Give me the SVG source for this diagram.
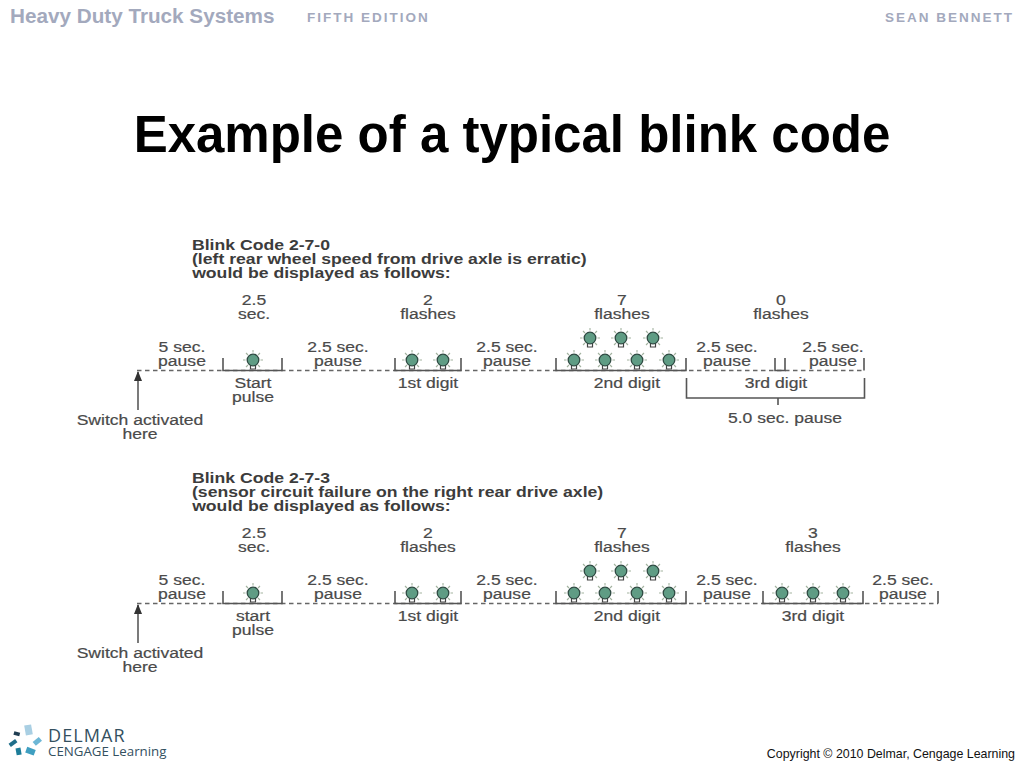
<svg xmlns="http://www.w3.org/2000/svg" width="1024" height="768" viewBox="0 0 1024 768">
<style>
text{font-family:"Liberation Sans",Arial,sans-serif}
.l{font-size:15px;fill:#4a4a4a;text-anchor:middle;stroke:#4a4a4a;stroke-width:.2;transform-box:fill-box;transform-origin:50% 50%;transform:scaleX(1.17)}
.h{font-size:15px;font-weight:bold;fill:#3c3c3c;transform-box:fill-box;transform-origin:0 50%;transform:scaleX(1.175)}
.dash{stroke:#666;stroke-width:1.5;stroke-dasharray:4.5 3.5;fill:none}
.solid{stroke:#555;stroke-width:1.6;fill:none}
.pointer{stroke:#333;stroke-width:1.3;fill:none;marker-end:url(#arr)}
.ray{stroke:#a3b3a0;stroke-width:1.1}
.top{font-weight:bold;fill:#a3a9bd}
.ed{font-size:13.5px;letter-spacing:2px}
.logo{font-family:"Open Sans",sans-serif;fill:#34505f}
</style>
<defs>
<g id="bulb">
<path class="ray" d="M0-11V-8.500M7-8L5-6M-7-8L-5-6M10-1H7.500M-10-1H-7.500M7 6L5 4M-7 6L-5 4"/>
<path d="M-2.500 4V8H2.500V4" fill="#fff" stroke="#444" stroke-width="1.200"/>
<circle r="5.800" cy="-1" fill="#5f9c84" stroke="#2f4a42" stroke-width="1.300"/>
</g>
<marker id="arr" markerWidth="10" markerHeight="8" refX="9" refY="4" orient="auto" markerUnits="userSpaceOnUse" viewBox="0 0 10 8"><path d="M0 0L10 4L0 8Z" fill="#333"/></marker>
</defs>
<rect width="1024" height="768" fill="#fff"/>
<g id="header">
<text class="top" x="10" y="23" font-size="20.700">Heavy Duty Truck Systems</text>
<text class="top ed" x="307" y="22">FIFTH EDITION</text>
<text class="top ed" x="1014" y="22" text-anchor="end">SEAN BENNETT</text>
</g>
<text id="title" x="512" y="151.500" font-size="51" font-weight="bold" fill="#000" text-anchor="middle">Example of a typical blink code</text>

<g id="connectors">
<path class="dash" d="M137 370.500H863"/>
<path class="solid" d="M223 358V370.500H282V358M395 358V370.500H461V358M556 358V370.500H686V358M775 358V370.500H785V358M864 358V370.500"/>
<path class="solid" d="M686.500 378V398H864.500V378M778 398V405"/>
<path class="pointer" d="M138 410V372"/>

<path class="dash" d="M137 603.500H938"/>
<path class="solid" d="M223 591V603.500H282V591M395 591V603.500H461V591M556 591V603.500H686V591M763 591V603.500H863V591M938 591V603.500"/>
<path class="pointer" d="M138 643V605"/>
</g>

<g id="bulbs-1">
<use href="#bulb" x="253" y="361"/><use href="#bulb" x="412" y="361"/><use href="#bulb" x="443" y="361"/>
<use href="#bulb" x="574" y="361"/><use href="#bulb" x="605" y="361"/><use href="#bulb" x="637" y="361"/><use href="#bulb" x="669" y="361"/>
<use href="#bulb" x="590" y="339"/><use href="#bulb" x="621" y="339"/><use href="#bulb" x="653" y="339"/>
</g>
<g id="bulbs-2">
<use href="#bulb" x="253" y="594"/><use href="#bulb" x="412" y="594"/><use href="#bulb" x="443" y="594"/>
<use href="#bulb" x="574" y="594"/><use href="#bulb" x="605" y="594"/><use href="#bulb" x="637" y="594"/><use href="#bulb" x="669" y="594"/>
<use href="#bulb" x="590" y="572"/><use href="#bulb" x="621" y="572"/><use href="#bulb" x="653" y="572"/>
<use href="#bulb" x="782" y="594"/><use href="#bulb" x="813" y="594"/><use href="#bulb" x="843" y="594"/>
</g>

<g id="code-1">
<text class="h" x="192" y="250">Blink Code 2-7-0</text>
<text class="h" x="192" y="264">(left rear wheel speed from drive axle is erratic)</text>
<text class="h" x="192" y="278">would be displayed as follows:</text>
<text class="l" x="254" y="305">2.5</text><text class="l" x="254" y="319">sec.</text>
<text class="l" x="428" y="305">2</text><text class="l" x="428" y="319">flashes</text>
<text class="l" x="622" y="305">7</text><text class="l" x="622" y="319">flashes</text>
<text class="l" x="781" y="305">0</text><text class="l" x="781" y="319">flashes</text>
<text class="l" x="182" y="352">5 sec.</text><text class="l" x="182" y="366">pause</text>
<text class="l" x="338" y="352">2.5 sec.</text><text class="l" x="338" y="366">pause</text>
<text class="l" x="507" y="352">2.5 sec.</text><text class="l" x="507" y="366">pause</text>
<text class="l" x="727" y="352">2.5 sec.</text><text class="l" x="727" y="366">pause</text>
<text class="l" x="833" y="352">2.5 sec.</text><text class="l" x="833" y="366">pause</text>
<text class="l" x="253" y="388">Start</text><text class="l" x="253" y="402">pulse</text>
<text class="l" x="428" y="388">1st digit</text>
<text class="l" x="627" y="388">2nd digit</text>
<text class="l" x="776" y="388">3rd digit</text>
<text class="l" x="785" y="423">5.0 sec. pause</text>
<text class="l" x="140" y="425">Switch activated</text><text class="l" x="140" y="439">here</text>
</g>

<g id="code-2">
<text class="h" x="192" y="483">Blink Code 2-7-3</text>
<text class="h" x="192" y="497">(sensor circuit failure on the right rear drive axle)</text>
<text class="h" x="192" y="511">would be displayed as follows:</text>
<text class="l" x="254" y="538">2.5</text><text class="l" x="254" y="552">sec.</text>
<text class="l" x="428" y="538">2</text><text class="l" x="428" y="552">flashes</text>
<text class="l" x="622" y="538">7</text><text class="l" x="622" y="552">flashes</text>
<text class="l" x="813" y="538">3</text><text class="l" x="813" y="552">flashes</text>
<text class="l" x="182" y="585">5 sec.</text><text class="l" x="182" y="599">pause</text>
<text class="l" x="338" y="585">2.5 sec.</text><text class="l" x="338" y="599">pause</text>
<text class="l" x="507" y="585">2.5 sec.</text><text class="l" x="507" y="599">pause</text>
<text class="l" x="727" y="585">2.5 sec.</text><text class="l" x="727" y="599">pause</text>
<text class="l" x="903" y="585">2.5 sec.</text><text class="l" x="903" y="599">pause</text>
<text class="l" x="253" y="621">start</text><text class="l" x="253" y="635">pulse</text>
<text class="l" x="428" y="621">1st digit</text>
<text class="l" x="627" y="621">2nd digit</text>
<text class="l" x="813" y="621">3rd digit</text>
<text class="l" x="140" y="658">Switch activated</text><text class="l" x="140" y="672">here</text>
</g>

<g id="logo">
<rect x="25" y="725" width="7" height="10" fill="#a9cfe3" transform="rotate(-10 28 730)"/>
<rect x="33" y="739" width="8" height="5" fill="#6db7d6" transform="rotate(-40 37 741)"/>
<rect x="26" y="748" width="9" height="6" fill="#3f9fc1" transform="rotate(20 30 751)"/>
<rect x="16" y="748" width="5" height="7" fill="#1d7d99" transform="rotate(-10 18 751)"/>
<rect x="9" y="741" width="8" height="4" fill="#1f6e8a" transform="rotate(-35 13 743)"/>
<rect x="14" y="732" width="6" height="3.500" fill="#1f3d52" transform="rotate(15 17 733)"/>
<text class="logo" x="48" y="742" font-size="18" letter-spacing="1.100">DELMAR</text>
<text class="logo" x="48" y="756" font-size="13.300">CENGAGE Learning</text>
</g>
<text id="copyright" x="1015" y="758" font-size="12.400" fill="#111" text-anchor="end">Copyright © 2010 Delmar, Cengage Learning</text>
</svg>
